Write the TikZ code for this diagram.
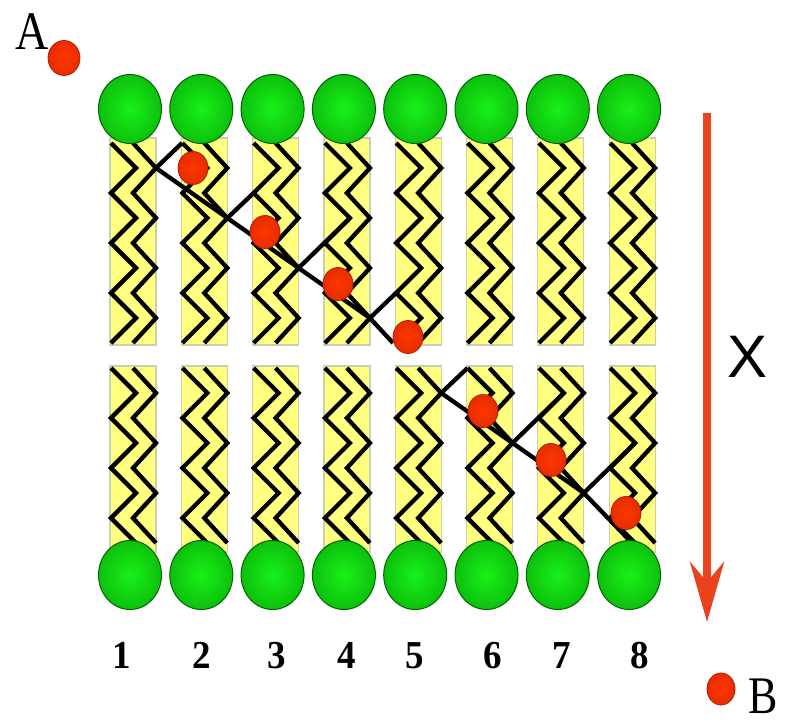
\documentclass[tikz,border=0pt]{standalone}
\usepackage{fontspec}
\setmainfont{Liberation Serif}
\newfontfamily\labelsans{Liberation Sans}
\usetikzlibrary{arrows.meta,shapes.geometric}

\definecolor{tailfill}{RGB}{255,255,128}
\definecolor{tailedge}{RGB}{205,205,175}
\definecolor{headin}{RGB}{25,240,25}
\definecolor{headout}{RGB}{0,145,0}
\definecolor{headrim}{RGB}{0,100,0}
\definecolor{solin}{RGB}{255,55,0}
\definecolor{solout}{RGB}{205,35,0}
\definecolor{solrim}{RGB}{180,30,0}
\definecolor{flow}{RGB}{234,66,28}

\pgfdeclareradialshading{headball}{\pgfpoint{0bp}{0bp}}{color(0bp)=(headin); color(50bp)=(headout)}
\pgfdeclareradialshading{soluteball}{\pgfpoint{0bp}{0bp}}{color(0bp)=(solin); color(50bp)=(solout)}

\tikzset{
  head/.style={ellipse, minimum width=63pt, minimum height=69pt, inner sep=0pt,
    shading=headball, draw=headrim, line width=1pt},
  solute/.style={ellipse, minimum width=30pt, minimum height=33pt, inner sep=0pt,
    shading=soluteball, draw=solrim, line width=0.8pt},
  tailband/.style={fill=tailfill, draw=tailedge, line width=1.2pt},
  chain/.style={draw=black, line width=4.3pt, line join=miter, line cap=butt},
  serifbig/.style={inner sep=0pt, anchor=base, font=\fontsize{46}{46}\selectfont},
  numlabel/.style={inner sep=0pt, anchor=base, font=\fontsize{37}{37}\selectfont\bfseries},
  flowarrow/.style={draw=flow, line width=8pt,
    -{Stealth[length=60pt, width=34pt, inset=20pt, fill=flow]}},
}

% one tail chain of the upper leaflet: #1 = left turn x, #2 = right turn x
\newcommand\upperchain[2]{%
  \draw[chain] (#1,143) -- (#2,168) -- (#1,193) -- (#2,218) -- (#1,243)
    -- (#2,268) -- (#1,293) -- (#2,318) -- (#1,343);}
% one tail chain of the lower leaflet
\newcommand\lowerchain[2]{%
  \draw[chain] (#1,368) -- (#2,393) -- (#1,418) -- (#2,443) -- (#1,468)
    -- (#2,493) -- (#1,518) -- (#2,543);}

\begin{document}
\begin{tikzpicture}[x=1pt, y=-1pt]
  \useasboundingbox (0,0) rectangle (788,723);
  \fill[white] (0,0) rectangle (788,723);

  % hydrophobic tail bands and tail chains
  \foreach \i in {1,...,8} {
    \pgfmathsetmacro\xc{133+71.3*(\i-1)}
    \pgfmathsetmacro\xa{\xc-23}
    \pgfmathsetmacro\xb{\xc+23}
    \pgfmathsetmacro\la{\xc-22}
    \pgfmathsetmacro\ra{\xc+3}
    \pgfmathsetmacro\lb{\xc}
    \pgfmathsetmacro\rb{\xc+23}
    \draw[tailband] (\xa,138) rectangle (\xb,345);
    \draw[tailband] (\xa,366) rectangle (\xb,552);
    \upperchain{\la}{\ra}
    \upperchain{\lb}{\rb}
    \lowerchain{\la}{\ra}
    \lowerchain{\lb}{\rb}
  }

  % path of the solute through the upper leaflet
  \coordinate (u0) at (182,143);
  \coordinate (u1) at (156,168);
  \coordinate (u2) at (227.3,218);
  \coordinate (u3) at (298.6,268);
  \coordinate (u4) at (369.9,318);
  \coordinate (u5) at (393,343);
  \coordinate (v2) at (253.6,193);
  \coordinate (v3) at (349.9,218);
  \coordinate (v4) at (396,293);
  \draw[chain] (u0) -- (u1) -- (u4) -- (u5);
  \draw[chain] (u2) -- (v2);
  \draw[chain] (u3) -- (v3);
  \draw[chain] (u4) -- (v4);

  % path of the solute through the lower leaflet
  \coordinate (l0) at (467.5,368);
  \coordinate (l1) at (441.2,393);
  \coordinate (l2) at (512.5,443);
  \coordinate (l3) at (583.8,493);
  \coordinate (l4) at (632,543);
  \coordinate (m2) at (563.8,393);
  \coordinate (m3) at (635,443);
  \draw[chain] (l0) -- (l1) -- (l3) -- (l4);
  \draw[chain] (l2) -- (m2);
  \draw[chain] (l3) -- (m3);

  % polar head groups
  \foreach \i in {1,...,8} {
    \pgfmathsetmacro\hx{130+71.3*(\i-1)}
    \node[head] (top\i) at (\hx,109) {};
    \node[head] (bot\i) at (\hx,575) {};
  }

  % solute molecule positions
  \node[solute, minimum width=32pt, minimum height=35pt] (sa) at (64,58) {};
  \node[solute] (s1) at (193,168) {};
  \node[solute] (s2) at (265,232) {};
  \node[solute] (s3) at (338,284) {};
  \node[solute] (s4) at (408,337) {};
  \node[solute] (s5) at (483,411) {};
  \node[solute] (s6) at (551,460) {};
  \node[solute] (s7) at (626,513) {};
  \node[solute, minimum width=28pt, minimum height=32pt] (sb) at (721,689) {};

  % labels
  \node[serifbig] (labA) at (32,49) {\scalebox{1}[1.18]{A}};
  \node[serifbig, font=\fontsize{44}{44}\selectfont] (labB) at (763,713) {\scalebox{1}[1.2]{B}};
  \node[inner sep=0pt, anchor=base, font=\labelsans\fontsize{60}{60}\selectfont]
    (labX) at (748,377) {X};
  \foreach \n/\x in {1/122, 2/202, 3/277, 4/347, 5/415, 6/493, 7/562, 8/640} {
    \node[numlabel] (num\n) at (\x,668) {\scalebox{1}[1.07]{\n}};
  }

  % direction of transport
  \coordinate (flowtop) at (707,113);
  \coordinate (flowend) at (707,622);
  \draw[flowarrow] (flowtop) -- (flowend);
\end{tikzpicture}
\end{document}
